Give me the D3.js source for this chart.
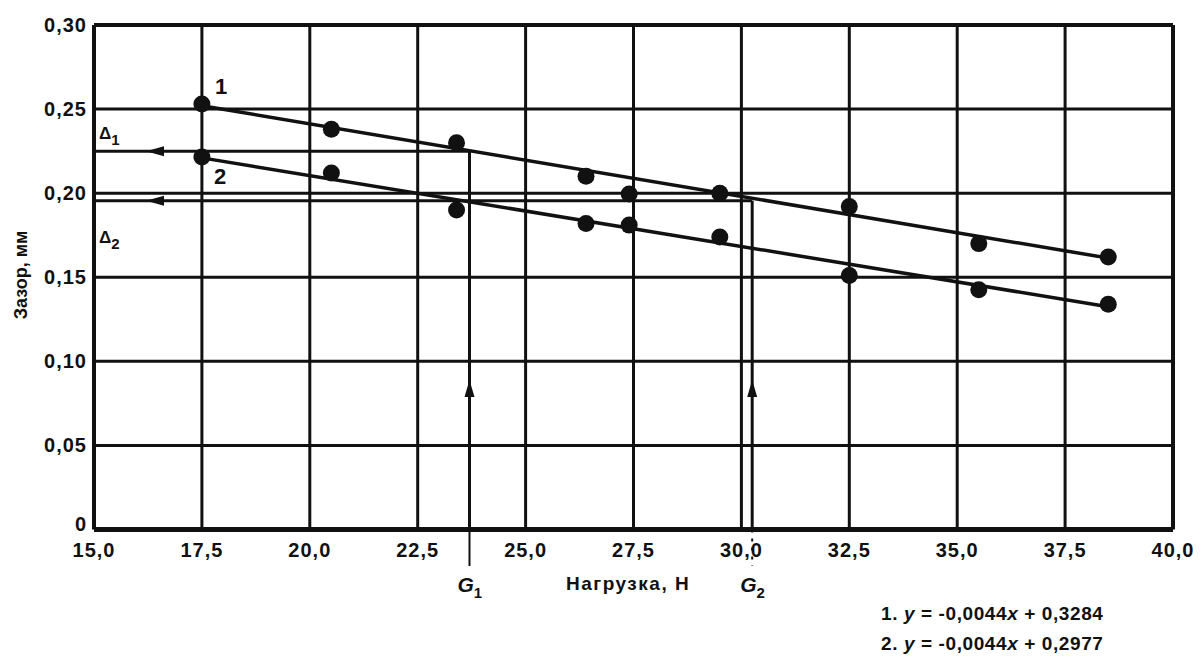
<!DOCTYPE html>
<html>
<head>
<meta charset="utf-8">
<script src="https://cdn.jsdelivr.net/npm/d3@7"></script>
<style>
  body { margin: 0; background: #fff; }
  svg text { font-family: "Liberation Sans", Arial, sans-serif; fill: #111; }
</style>
</head>
<body>
<svg id="chart" width="1203" height="660"></svg>
<script>
// axis ticks
var xTicks = [15, 17.5, 20, 22.5, 25, 27.5, 30, 32.5, 35, 37.5, 40];
var yTicks = [0, 0.05, 0.10, 0.15, 0.20, 0.25, 0.30];

// measured points (load, gap)
var loads = [17.5, 20.5, 23.4, 26.4, 27.4, 29.5, 32.5, 35.5, 38.5];
var gap1 = [0.253, 0.238, 0.230, 0.210, 0.1995, 0.200, 0.192, 0.170, 0.162];
var gap2 = [0.2215, 0.212, 0.190, 0.182, 0.181, 0.174, 0.151, 0.1425, 0.134];

// regression lines as drawn
var fit1 = [[17.5, 0.252], [38.5, 0.1614]];
var fit2 = [[17.5, 0.221], [38.5, 0.1325]];

// critical loads and gaps
var gNames = ["1", "2"];
var gLoads = [23.7, 30.25];
var deltaGaps = [0.225, 0.1955];

var equations = ["1. y = -0,0044x + 0,3284", "2. y = -0,0044x + 0,2977"];

var svg = d3.select("#chart");
var x = d3.scaleLinear().domain([15, 40]).range([94, 1173]);
var y = d3.scaleLinear().domain([0, 0.30]).range([529.5, 25]);

var fmtX = function(d){ return d3.format(".1f")(d).replace(".", ","); };
var fmtY = function(d){ return d === 0 ? "0" : d3.format(".2f")(d).replace(".", ","); };

// grid
var grid = svg.append("g");
grid.selectAll(".vg").data(xTicks).enter().append("line")
	.attr("x1", function(d){ return x(d); }).attr("x2", function(d){ return x(d); })
	.attr("y1", y(0)).attr("y2", y(0.30))
	.attr("stroke", "#111")
	.attr("stroke-width", function(d){ return (d == 15 || d == 40) ? 4 : 3; });
grid.selectAll(".hg").data(yTicks).enter().append("line")
	.attr("x1", x(15)).attr("x2", x(40))
	.attr("y1", function(d){ return y(d); }).attr("y2", function(d){ return y(d); })
	.attr("stroke", "#111")
	.attr("stroke-width", function(d){ return d == 0 ? 5 : (d == 0.30 ? 4 : 3); });

// tick labels
svg.append("g").selectAll("text").data(yTicks).enter().append("text")
	.attr("x", 87).attr("y", function(d){ return y(d) + (d == 0 ? 1 : 7); })
	.attr("text-anchor", "end")
	.style("font-size", "20px").style("font-weight", "bold").style("letter-spacing", "1px")
	.text(fmtY);
svg.append("g").selectAll("text").data(xTicks).enter().append("text")
	.attr("x", function(d){ return x(d); }).attr("y", 557)
	.attr("text-anchor", "middle")
	.style("font-size", "20px").style("font-weight", "bold").style("letter-spacing", "1px")
	.text(fmtX);

// axis titles
svg.append("text")
	.attr("transform", "translate(27,275) rotate(-90)")
	.attr("text-anchor", "middle")
	.style("font-size", "18px").style("font-weight", "bold")
	.text("Зазор, мм");
svg.append("text")
	.attr("x", 566).attr("y", 590)
	.style("font-size", "19px").style("font-weight", "bold").style("letter-spacing", "1.5px")
	.text("Нагрузка, Н");

// delta lines (horizontal, arrow to the left) and G lines (vertical, arrow up)
var guides = svg.append("g");
gLoads.forEach(function(g, i){
	var yd = y(deltaGaps[i]);
	guides.append("line")
		.attr("x1", x(15)).attr("x2", x(g)).attr("y1", yd).attr("y2", yd)
		.attr("stroke", "#111").attr("stroke-width", 3);
	guides.append("path")
		.attr("d", "M" + 146 + "," + yd + "L" + 164 + "," + (yd - 5) + "L" + 164 + "," + (yd + 5) + "Z")
		.attr("fill", "#111");
	guides.append("line")
		.attr("x1", x(g)).attr("x2", x(g)).attr("y1", yd).attr("y2", y(0))
		.attr("stroke", "#111").attr("stroke-width", 3);
	guides.append("line")
		.attr("x1", x(g)).attr("x2", x(g)).attr("y1", y(0)).attr("y2", 566)
		.attr("stroke", "#111").attr("stroke-width", 2)
		.attr("stroke-dasharray", i == 1 ? "3,6" : null);
	var ya = 380;
	guides.append("path")
		.attr("d", "M" + x(g) + "," + ya + "L" + (x(g) - 5) + "," + (ya + 17) + "L" + (x(g) + 5) + "," + (ya + 17) + "Z")
		.attr("fill", "#111");
	var gl = svg.append("text")
		.attr("x", x(g) - 12).attr("y", 592)
		.style("font-size", "21px").style("font-style", "italic").style("font-weight", "bold");
	gl.append("tspan").text("G");
	gl.append("tspan").attr("dy", 6).style("font-size", "15px").style("font-style", "normal").text(gNames[i]);
	var dl = svg.append("text")
		.attr("x", 99).attr("y", i == 0 ? yd - 12 : yd + 42)
		.style("font-size", "17px").style("font-weight", "bold");
	dl.append("tspan").text("Δ");
	dl.append("tspan").attr("dy", 6).style("font-size", "15px").text(gNames[i]);
});

// regression lines
var line = d3.line().x(function(d){ return x(d[0]); }).y(function(d){ return y(d[1]); });
[fit1, fit2].forEach(function(f){
	svg.append("path").attr("d", line(f))
		.attr("fill", "none").attr("stroke", "#111").attr("stroke-width", 3.5);
});

// points
[gap1, gap2].forEach(function(s){
	svg.append("g").selectAll("circle").data(s).enter().append("circle")
		.attr("cx", function(d, i){ return x(loads[i]); })
		.attr("cy", function(d){ return y(d); })
		.attr("r", 8.5).attr("fill", "#111");
});

// curve labels
svg.append("text").attr("x", x(17.5) + 13).attr("y", y(gap1[0]) - 10)
	.style("font-size", "22px").style("font-weight", "bold").text("1");
svg.append("text").attr("x", x(17.5) + 12).attr("y", y(gap2[0]) + 27)
	.style("font-size", "22px").style("font-weight", "bold").text("2");

// equations
equations.forEach(function(e, i){
	var t = svg.append("text").attr("x", 881).attr("y", 620 + i * 30)
		.style("font-size", "19px").style("font-weight", "bold").style("letter-spacing", "0.6px");
	var parts = e.split(/([xy])/);
	parts.forEach(function(p){
		var s = t.append("tspan").text(p);
		if(p == "x" || p == "y") s.style("font-style", "italic");
	});
});
</script>
</body>
</html>
